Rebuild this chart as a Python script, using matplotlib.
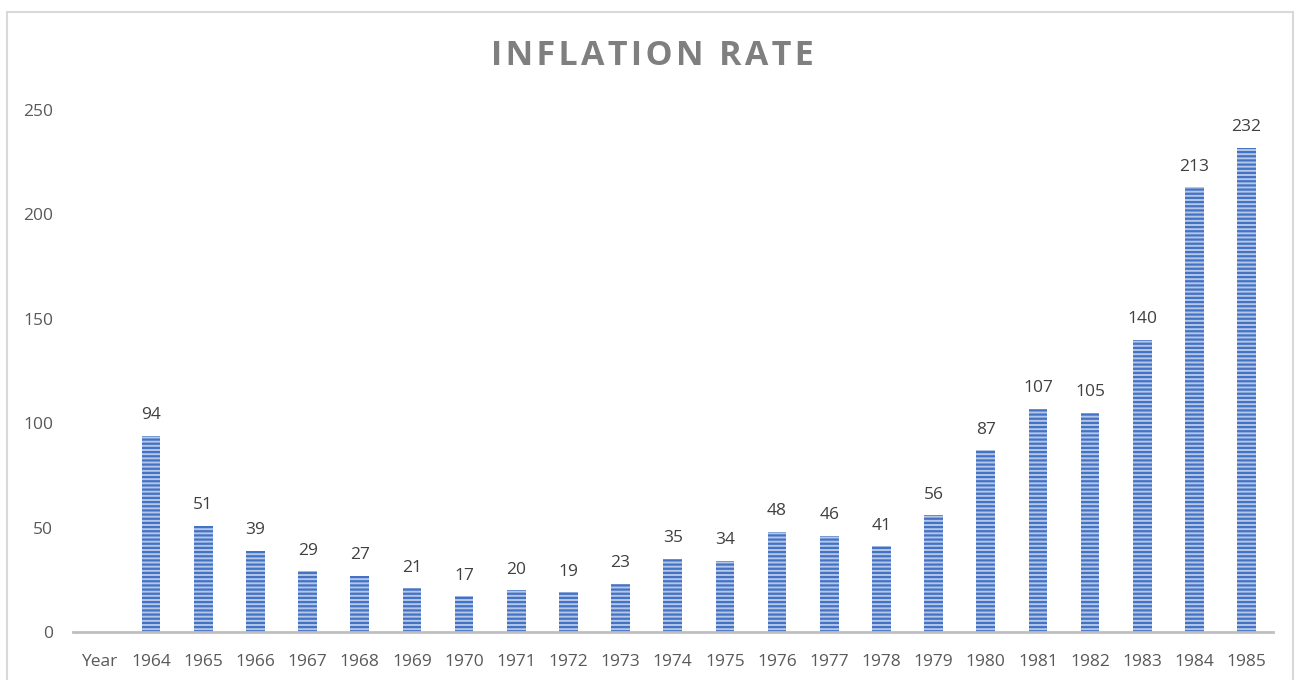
import matplotlib.pyplot as plt
from matplotlib.patches import Rectangle

categories = ['Year', '1964', '1965', '1966', '1967', '1968', '1969', '1970', '1971', '1972',
              '1973', '1974', '1975', '1976', '1977', '1978', '1979', '1980', '1981', '1982',
              '1983', '1984', '1985']
values = [0, 94, 51, 39, 29, 27, 21, 17, 20, 19, 23, 35, 34, 48, 46, 41, 56, 87, 107, 105,
          140, 213, 232]

plt.rcParams['font.family'] = ['Open Sans', 'DejaVu Sans']
plt.rcParams['hatch.linewidth'] = 1.6

fig = plt.figure(figsize=(13, 6.8), dpi=100)
ax = fig.add_axes([0.056, 0.0706, 0.923, 0.7676])

x = range(len(categories))
bars = ax.bar(x[1:], values[1:], width=0.36, color='#B4C7E7', edgecolor='#4472C4',
              linewidth=0, hatch='----')
for xi, v in zip(x[1:], values[1:]):
    ax.text(xi, v + 6, str(v), ha='center', va='bottom', fontsize=12.5, color='#404040')

ax.set_xlim(-0.5, len(categories) - 0.5)
ax.set_ylim(0, 250)
ax.set_yticks(range(0, 251, 50))
ax.set_xticks(list(x))
ax.set_xticklabels(categories)
ax.tick_params(length=0, labelsize=12.5, labelcolor='#595959')
ax.tick_params(axis='y', pad=14)
ax.tick_params(axis='x', pad=16)
for s in ['top', 'right', 'left']:
    ax.spines[s].set_visible(False)
ax.spines['bottom'].set_color('#BFBFBF')
ax.spines['bottom'].set_linewidth(2)

title = 'INFLATION RATE'
spaced = '\u200a'.join(title).replace('\u200a \u200a', '\u200a \u200a')
fig.text(0.502, 0.917, spaced, ha='center', va='center',
         fontsize=24.5, fontweight='bold', color='#7F7F7F')

fig.patches.append(Rectangle((0.0054, -0.02), 0.989, 1.002, transform=fig.transFigure,
                             fill=False, edgecolor='#D9D9D9', linewidth=1.5))

plt.savefig('out.png')
